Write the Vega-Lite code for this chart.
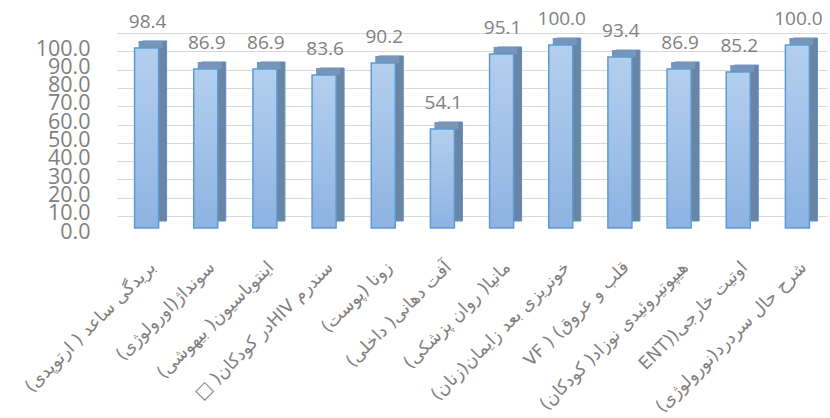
{
  "$schema": "https://vega.github.io/schema/vega-lite/v6.json",
  "width": 710,
  "height": 183,
  "autosize": "none",
  "padding": {"left": 117, "top": 45, "right": 3, "bottom": 190},
  "background": "white",
  "config": {"view": {"stroke": null}, "font": "Open Sans"},
  "data": {
    "values": [
      {"label": "\u202bبریدگی ساعد ( ارتوپدی)\u202c", "value": 98.4},
      {"label": "\u202bسونداژ(اورولوژی)\u202c", "value": 86.9},
      {"label": "\u202bاینتوباسیون( بیهوشی)\u202c", "value": 86.9},
      {"label": "\u202bسندرم  HIVدر کودکان( □\u202c", "value": 83.6},
      {"label": "\u202bزونا (پوست)\u202c", "value": 90.2},
      {"label": "\u202bآفت دهانی( داخلی)\u202c", "value": 54.1},
      {"label": "\u202bمانیا( روان پزشکی)\u202c", "value": 95.1},
      {"label": "\u202bخونریزی بعد زایمان(زنان)\u202c", "value": 100.0},
      {"label": "\u202bقلب و عروق) ( VF\u202c", "value": 93.4},
      {"label": "\u202bهیپوتیروئیدی نوزاد( کودکان)\u202c", "value": 86.9},
      {"label": "\u202bاوتیت خارجی((ENT\u202c", "value": 85.2},
      {"label": "\u202bشرح حال سردرد(نورولوژی)\u202c", "value": 100.0}
    ]
  },
  "encoding": {
    "x": {
      "field": "label",
      "type": "nominal",
      "sort": null,
      "scale": {"paddingInner": 0.594, "paddingOuter": 0.297},
      "axis": {
        "title": null,
        "labelAngle": -45,
        "labelAlign": "right",
        "labelBaseline": "top",
        "labelFont": "DejaVu Sans",
        "labelFontSize": 17.5,
        "labelColor": "#808080",
        "labelPadding": 30,
        "labelLimit": 400,
        "labelOverlap": false,
        "domain": false,
        "ticks": false,
        "grid": false
      }
    },
    "y": {
      "field": "value",
      "type": "quantitative",
      "scale": {"domain": [0, 100]},
      "axis": {
        "title": null,
        "values": [0, 10, 20, 30, 40, 50, 60, 70, 80, 90, 100],
        "format": ".1f",
        "labelFontSize": 21.5,
        "labelColor": "#808080",
        "labelPadding": 27,
        "tickOffset": -12,
        "labelOffset": 16,
        "labelOverlap": false,
        "domain": false,
        "ticks": false,
        "grid": true,
        "gridColor": "#d9d9d9",
        "gridWidth": 1.2
      }
    }
  },
  "layer": [
    {
      "mark": {"type": "bar", "xOffset": 8, "yOffset": -7, "fill": "#6a84a4", "stroke": "#5b8fc8", "strokeWidth": 1}
    },
    {
      "mark": {"type": "tick", "orient": "horizontal", "thickness": 7, "size": 24, "xOffset": 4, "yOffset": -3.5, "fill": "#7895b9", "opacity": 1}
    },
    {
      "mark": {
        "type": "bar",
        "stroke": "#5b9bd5",
        "strokeWidth": 1.5,
        "color": {
          "gradient": "linear",
          "x1": 0, "y1": 0, "x2": 0, "y2": 1,
          "stops": [
            {"offset": 0, "color": "#b3cfee"},
            {"offset": 1, "color": "#8eb3e2"}
          ]
        }
      }
    },
    {
      "mark": {"type": "text", "dy": -20, "dx": 1, "fontSize": 19, "color": "#808080", "baseline": "alphabetic"},
      "encoding": {"text": {"field": "value", "type": "quantitative", "format": ".1f"}}
    }
  ]
}
